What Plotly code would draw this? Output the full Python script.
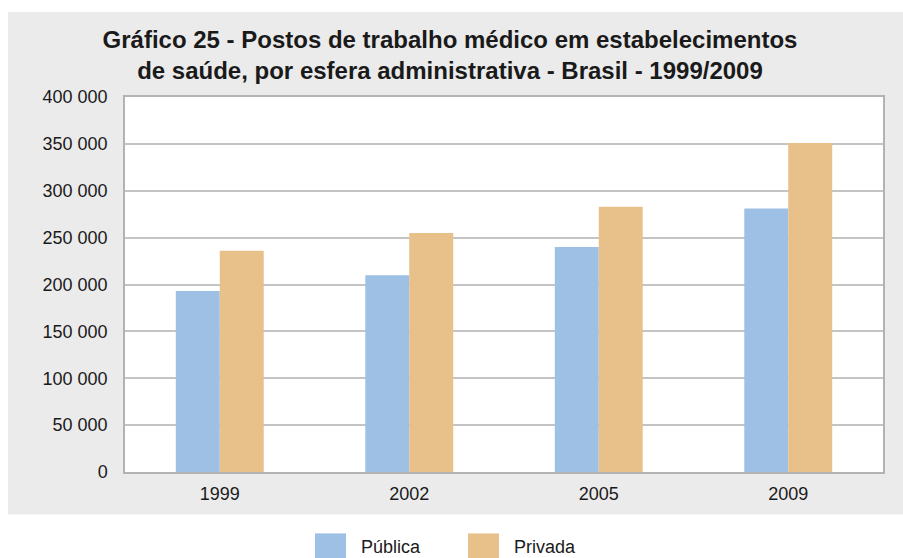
import plotly.graph_objects as go

# ---- data ----
years = ["1999", "2002", "2005", "2009"]
publica = [193000, 210000, 240000, 281000]
privada = [236000, 255000, 283000, 351000]
series_names = ["Pública", "Privada"]
y_ticks = [0, 50000, 100000, 150000, 200000, 250000, 300000, 350000, 400000]
title_text = ("Gráfico 25 - Postos de trabalho médico em estabelecimentos<br>"
              "de saúde, por esfera administrativa - Brasil - 1999/2009")

# ---- layout geometry (pixels) ----
W, H = 903, 558
PL, PR, PT, PB = 125, 883, 97, 472.5
BLUE = "#9dc0e4"
ORANGE = "#e8c08a"
BG = "#ebebeb"
FONT = "Liberation Sans, Arial, sans-serif"
TXT = "#1a1a1a"


def px_x(px):
    return (px - PL) / (PR - PL)


def px_y(py):
    return (PB - py) / (PB - PT)


fig = go.Figure()
fig.add_trace(go.Bar(x=years, y=publica, name=series_names[0],
                     marker=dict(color=BLUE, line=dict(width=0))))
fig.add_trace(go.Bar(x=years, y=privada, name=series_names[1],
                     marker=dict(color=ORANGE, line=dict(width=0))))

shapes = [
    # gray chart background
    dict(type="rect", xref="paper", yref="paper",
         x0=px_x(8), x1=px_x(910), y0=px_y(515), y1=px_y(12),
         fillcolor=BG, line=dict(width=0), layer="below"),
    # white plot area
    dict(type="rect", xref="paper", yref="paper",
         x0=0, x1=1, y0=0, y1=1,
         fillcolor="white", line=dict(width=0), layer="below"),
    # legend swatches
    dict(type="rect", xref="paper", yref="paper",
         x0=px_x(315), x1=px_x(346), y0=px_y(562), y1=px_y(534),
         fillcolor=BLUE, line=dict(width=0)),
    dict(type="rect", xref="paper", yref="paper",
         x0=px_x(468), x1=px_x(499), y0=px_y(562), y1=px_y(534),
         fillcolor=ORANGE, line=dict(width=0)),
]

annotations = [
    dict(text=series_names[0], xref="paper", yref="paper", x=px_x(359), y=px_y(548),
         xanchor="left", yanchor="middle", showarrow=False,
         font=dict(family=FONT, size=18, color=TXT)),
    dict(text=series_names[1], xref="paper", yref="paper", x=px_x(512), y=px_y(548),
         xanchor="left", yanchor="middle", showarrow=False,
         font=dict(family=FONT, size=18, color=TXT)),
]

fig.update_layout(
    width=W, height=H,
    margin=dict(l=PL, r=W - PR, t=PT, b=H - PB),
    paper_bgcolor="white",
    plot_bgcolor="white",
    separators=", ",
    barmode="group",
    bargap=0.536,
    bargroupgap=0,
    showlegend=False,
    title=dict(text=title_text, xref="container", yref="container",
               x=450 / W, y=1 - 48 / H, xanchor="center", yanchor="middle",
               font=dict(family="Liberation Sans, Arial, sans-serif",
                         size=24, color=TXT, weight="bold")),
    shapes=shapes,
    annotations=annotations,
    font=dict(family=FONT, size=18, color=TXT),
)

fig.update_xaxes(showgrid=False, showline=True, linecolor="#b3b3b3", linewidth=1.5,
                 mirror=True, ticks="outside", ticklen=5, tickcolor="rgba(0,0,0,0)",
                 tickfont=dict(family=FONT, size=18, color=TXT))
fig.update_yaxes(range=[0, 400000], tickvals=y_ticks, tickformat=",d",
                 showgrid=True, gridcolor="#c4c4c4", gridwidth=1.5,
                 showline=True, linecolor="#b3b3b3", linewidth=1.5, mirror=True,
                 zeroline=False, ticks="outside", ticklen=12, tickcolor="rgba(0,0,0,0)",
                 tickfont=dict(family=FONT, size=18, color=TXT))

fig.write_html("out.html",
               config={"displayModeBar": False},
               post_script="document.body.style.margin='0';document.body.style.overflow='hidden';")
